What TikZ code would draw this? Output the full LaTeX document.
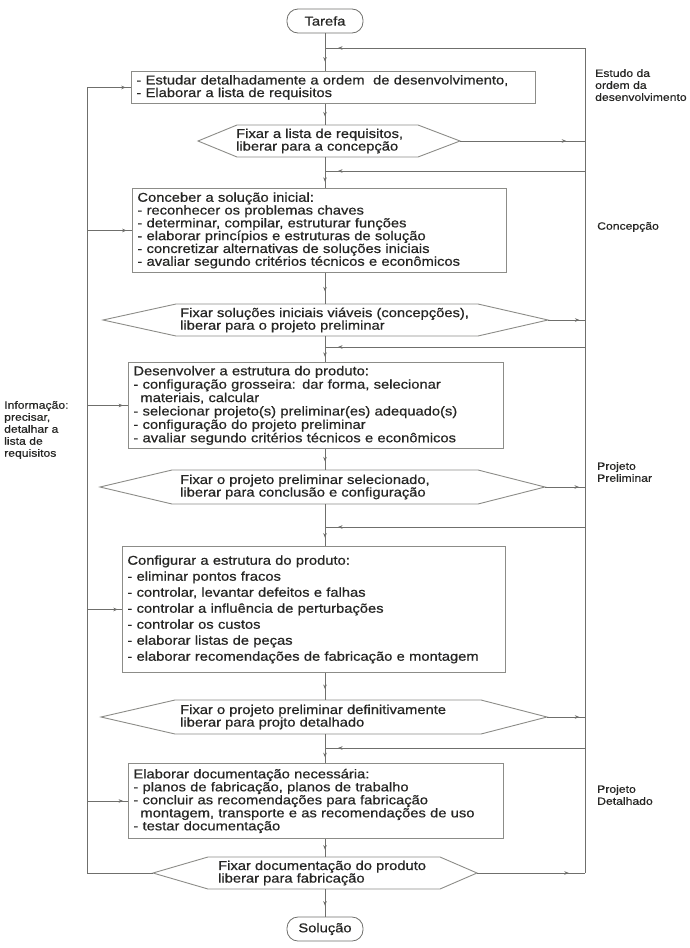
\documentclass[tikz,border=0pt]{standalone}
\usepackage{fontspec}
\setmainfont{Liberation Sans}[FakeStretch=1.15,FakeBold=0.6]
\usepackage{tikz}
\usetikzlibrary{arrows.meta,decorations.markings}
\definecolor{FlowLine}{HTML}{6F6F6C}
\definecolor{FlowBorder}{HTML}{8C8C88}
\definecolor{FlowText}{HTML}{262624}
\newcommand{\boxfont}{\fontsize{12.8}{12.6}\selectfont}
\newcommand{\sidefont}{\fontsize{10.6}{12}\selectfont}
\tikzset{
  flowline/.style={draw=FlowLine,line width=0.7pt},
  flowarrow/.style={flowline,postaction={decorate},decoration={markings,mark=at position #1 with {\arrow{Stealth[length=4.5pt,width=3.6pt]}}}},
  flowarrow/.default=0.6,
  activity/.style={draw=FlowBorder,line width=0.9pt,fill=white,anchor=north west,align=left,inner xsep=5pt,inner ysep=2pt,text=FlowText,font=\boxfont},
  gate/.style={draw=FlowBorder,line width=0.9pt,fill=white},
  gatetext/.style={anchor=west,align=left,inner sep=0pt,minimum height=32pt,text=FlowText,font=\boxfont},
  terminal/.style={draw=FlowLine,line width=0.8pt,rounded corners=11pt,minimum width=76pt,minimum height=24pt,inner sep=0pt,text=FlowText,font=\boxfont},
  phase/.style={align=left,anchor=west,inner sep=0pt,text=FlowText,font=\sidefont}
}

\begin{document}
\begin{tikzpicture}[x=1pt,y=-1pt]
  \useasboundingbox (0,0) rectangle (690,948);

  % main column
  \node[terminal] (tarefa) at (325,21) {Tarefa};
  \node[activity,text width=394pt,minimum height=32pt] (estudo) at (131,71)
    {- Estudar detalhadamente a ordem \ de desenvolvimento,\\- Elaborar a lista de requisitos};

  \draw[gate] (198,141) -- (237,125) -- (418,125) -- (460,141) -- (418,157) -- (237,157) -- cycle;
  \node[gatetext] (fixar1) at (236,141) {Fixar a lista de requisitos,\\liberar para a concepção};

  \node[activity,text width=364pt,minimum height=84pt,font={\fontsize{12.8}{12.8}\selectfont}] (concepcao) at (132,188)
    {Conceber a solução inicial:\\- reconhecer os problemas chaves\\- determinar, compilar, estruturar funções\\- elaborar princípios e estruturas de solução\\- concretizar alternativas de soluções iniciais\\- avaliar segundo critérios técnicos e econômicos};

  \draw[gate] (103,320) -- (176,304) -- (478,304) -- (548,320) -- (478,336) -- (176,336) -- cycle;
  \node[gatetext] (fixar2) at (180,320) {Fixar soluções iniciais viáveis (concepções),\\liberar para o projeto preliminar};

  \node[activity,text width=365pt,minimum height=86pt,font={\fontsize{12.8}{13.4}\selectfont}] (preliminar) at (128,362)
    {Desenvolver a estrutura do produto:\\- configuração grosseira: dar forma, selecionar\\\hspace*{7pt}materiais, calcular\\- selecionar projeto(s) preliminar(es) adequado(s)\\- configuração do projeto preliminar\\- avaliar segundo critérios técnicos e econômicos};

  \draw[gate] (100,487) -- (172,470) -- (478,470) -- (545,487) -- (478,504) -- (172,504) -- cycle;
  \node[gatetext,minimum height=34pt] (fixar3) at (180,487) {Fixar o projeto preliminar selecionado,\\liberar para conclusão e configuração};

  \node[activity,text width=373pt,minimum height=126pt,font={\fontsize{12.8}{16}\selectfont}] (configurar) at (122,546)
    {Configurar a estrutura do produto:\\- eliminar pontos fracos\\- controlar, levantar defeitos e falhas\\- controlar a influência de perturbações\\- controlar os custos\\- elaborar listas de peças\\- elaborar recomendações de fabricação e montagem};

  \draw[gate] (101,717) -- (175,700) -- (481,700) -- (547,717) -- (481,734) -- (175,734) -- cycle;
  \node[gatetext,minimum height=34pt] (fixar4) at (180,717) {Fixar o projeto preliminar definitivamente\\liberar para projto detalhado};

  \node[activity,text width=365pt,minimum height=75pt,font={\fontsize{12.8}{13}\selectfont}] (documentacao) at (128,763)
    {Elaborar documentação necessária:\\- planos de fabricação, planos de trabalho\\- concluir as recomendações para fabricação\\\hspace*{7pt}montagem, transporte e as recomendações de uso\\- testar documentação};

  \draw[gate] (153,873) -- (208,857) -- (440,857) -- (477,873) -- (440,889) -- (208,889) -- cycle;
  \node[gatetext] (fixar5) at (218,873) {Fixar documentação do produto\\liberar para fabricação};

  \node[terminal] (solucao) at (325,929) {Solução};

  % tips of the gates
  \coordinate (fixar1e) at (460,141);
  \coordinate (fixar2e) at (548,320);
  \coordinate (fixar3e) at (545,487);
  \coordinate (fixar4e) at (547,717);
  \coordinate (fixar5e) at (477,873);
  \coordinate (fixar5w) at (153,873);

  % flow down the column
  \draw[flowarrow=0.75] (tarefa) -- (estudo.north -| tarefa);
  \draw[flowarrow] (estudo.south -| tarefa) -- (fixar1.north -| tarefa);
  \draw[flowarrow=0.8] (fixar1.south -| tarefa) -- (concepcao.north -| tarefa);
  \draw[flowarrow] (concepcao.south -| tarefa) -- (fixar2.north -| tarefa);
  \draw[flowarrow=0.8] (fixar2.south -| tarefa) -- (preliminar.north -| tarefa);
  \draw[flowarrow] (preliminar.south -| tarefa) -- (fixar3.north -| tarefa);
  \draw[flowarrow=0.8] (fixar3.south -| tarefa) -- (configurar.north -| tarefa);
  \draw[flowarrow] (configurar.south -| tarefa) -- (fixar4.north -| tarefa);
  \draw[flowarrow=0.8] (fixar4.south -| tarefa) -- (documentacao.north -| tarefa);
  \draw[flowarrow] (documentacao.south -| tarefa) -- (fixar5.north -| tarefa);
  \draw[flowarrow] (fixar5.south -| tarefa) -- (solucao);

  % return loop on the right
  \coordinate (ret0) at (585,48);
  \coordinate (ret1) at (585,171);
  \coordinate (ret2) at (585,347);
  \coordinate (ret3) at (585,527);
  \coordinate (ret4) at (585,748);
  \draw[flowline] (ret0) -- (ret0 |- fixar5e);
  \foreach \r in {ret0,ret1,ret2,ret3,ret4}
    \draw[flowarrow=0.95] (\r) -- (\r -| tarefa);
  \foreach \g in {fixar1e,fixar2e,fixar3e,fixar4e,fixar5e}
    \draw[flowarrow=0.85] (\g) -- (\g -| ret0);

  % information loop on the left
  \coordinate (info) at (87,873);
  \draw[flowline] (fixar5w) -- (info) -- (info |- estudo.west);
  \foreach \b in {estudo,concepcao,preliminar,configurar,documentacao}
    \draw[flowarrow=0.88] (info |- \b.west) -- (\b.west);

  % phase labels
  \node[phase,anchor=north west] (estudolabel) at (595,69) {Estudo da\\ordem da\\desenvolvimento};
  \node[phase] (concepcaolabel) at (597,227) {Concepção};
  \node[phase] (prelimlabel) at (597,472) {Projeto\\Preliminar};
  \node[phase] (detalhelabel) at (597,795) {Projeto\\Detalhado};
  \node[phase] (infolabel) at (4,430) {Informação:\\precisar,\\detalhar a\\lista de\\requisitos};
\end{tikzpicture}
\end{document}
